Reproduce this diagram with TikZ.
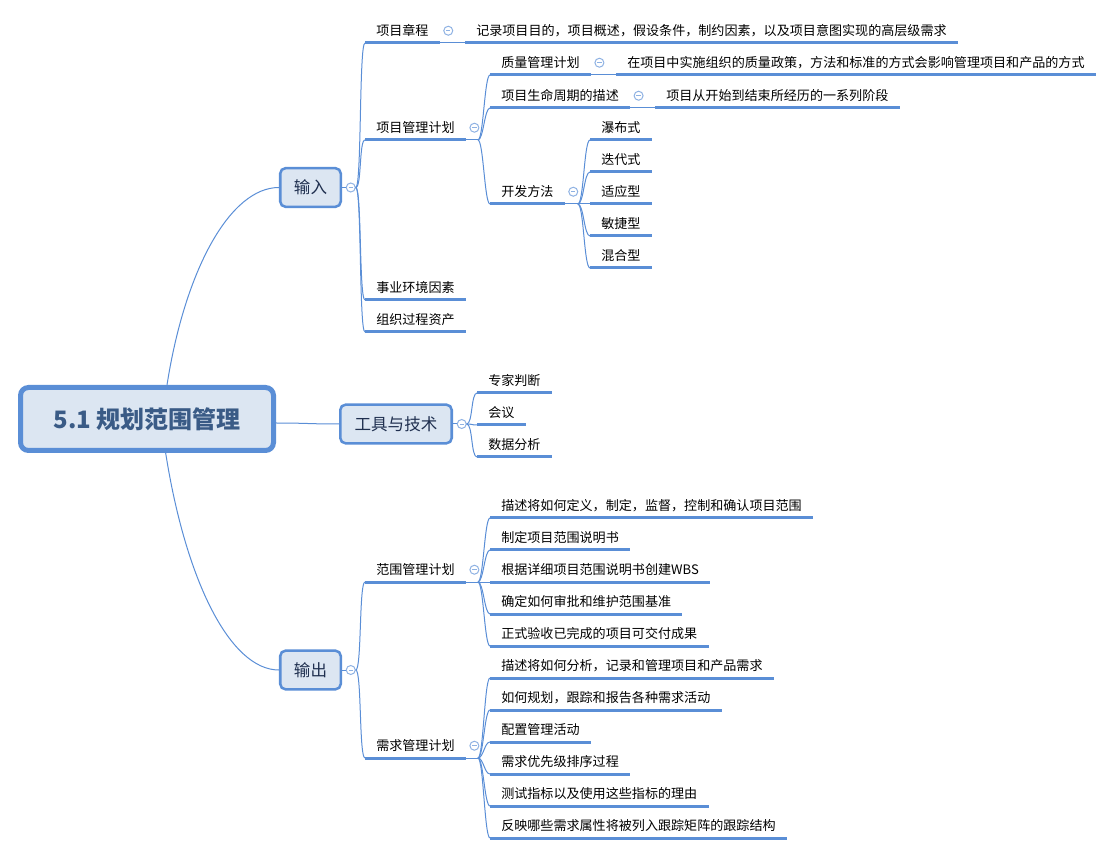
\documentclass[tikz,border=0pt]{standalone}
\usepackage{fontspec}
\setmainfont{Noto Sans CJK SC}
\usetikzlibrary{positioning}
\definecolor{mapblue}{HTML}{5A8ED6}
\definecolor{mapfill}{HTML}{DCE6F2}
\definecolor{foldblue}{HTML}{8FB2E3}
\definecolor{roottext}{HTML}{3A5B86}
\definecolor{boxtext}{HTML}{1F2F4F}
\tikzset{rootbox/.style={draw=mapblue, fill=mapfill, line width=3.75pt, rounded corners=6pt, minimum width=189.75pt, minimum height=47.25pt, font=\fontsize{18}{20}\selectfont\bfseries, text=roottext}}
\tikzset{topicbox/.style={draw=mapblue, fill=mapfill, line width=1.9pt, rounded corners=4pt, minimum height=29pt, font=\fontsize{12.4}{14}\selectfont, text=boxtext}}
\tikzset{leaf/.style={anchor=south west, inner xsep=8.25pt, inner ysep=0pt, minimum height=18pt, font=\fontsize{9.8}{12}\selectfont}}
\tikzset{uline/.style={draw=mapblue, line width=2.25pt}}
\tikzset{link/.style={draw=mapblue, line width=0.75pt}}
\tikzset{foldbtn/.style={circle, draw=foldblue, fill=white, line width=0.75pt, minimum size=6.75pt, inner sep=0pt,
  path picture={\draw[foldblue, line width=0.6pt] ([xshift=-1.6pt]path picture bounding box.center) -- ([xshift=1.6pt]path picture bounding box.center);}}}

\begin{document}
\begin{tikzpicture}[x=0.75pt,y=-0.75pt]
      \useasboundingbox (0,0) rectangle (1111,855);
      \node[rootbox] (root) at (147,419) {5.1 规划范围管理};
      \node[topicbox,minimum width=45.4pt] (input) at (310.5,187.5) {输入};
      \node[topicbox,minimum width=83.6pt] (tools) at (396,424) {工具与技术};
      \node[topicbox,minimum width=45.4pt] (output) at (310.5,670) {输出};
      \node[foldbtn,right=2.8pt of input] (inputfold) {};
      \node[foldbtn,right=2.8pt of tools] (toolsfold) {};
      \node[foldbtn,right=2.8pt of output] (outputfold) {};

      \node[leaf] (charter) at (365,43) {项目章程};
      \node[leaf] (charternote) at (465,43) {记录项目目的，项目概述，假设条件，制约因素，以及项目意图实现的高层级需求};
      \node[leaf] (pmp) at (365,140) {项目管理计划};
      \node[leaf] (quality) at (490,75) {质量管理计划};
      \node[leaf] (qualitynote) at (616,75) {在项目中实施组织的质量政策，方法和标准的方式会影响管理项目和产品的方式};
      \node[leaf] (lifecycle) at (490,108) {项目生命周期的描述};
      \node[leaf] (lifecyclenote) at (655,108) {项目从开始到结束所经历的一系列阶段};
      \node[leaf] (devmethod) at (490,204) {开发方法};
      \node[leaf] (waterfall) at (590,140) {瀑布式};
      \node[leaf] (iterative) at (590,172) {迭代式};
      \node[leaf] (adaptive) at (590,204) {适应型};
      \node[leaf] (agile) at (590,236) {敏捷型};
      \node[leaf] (hybrid) at (590,268) {混合型};
      \node[leaf] (eef) at (365,300) {事业环境因素};
      \node[leaf] (opa) at (365,332) {组织过程资产};

      \node[leaf] (expert) at (477,393) {专家判断};
      \node[leaf] (meeting) at (477,425) {会议};
      \node[leaf] (dataana) at (477,457) {数据分析};

      \node[leaf] (scope) at (365,582) {范围管理计划};
      \node[leaf] (scopea) at (490,518) {描述将如何定义，制定，监督，控制和确认项目范围};
      \node[leaf] (scopeb) at (490,550) {制定项目范围说明书};
      \node[leaf] (scopec) at (490,582) {根据详细项目范围说明书创建WBS};
      \node[leaf] (scoped) at (490,614) {确定如何审批和维护范围基准};
      \node[leaf] (scopee) at (490,646) {正式验收已完成的项目可交付成果};
      \node[leaf] (reqs) at (365,758) {需求管理计划};
      \node[leaf] (reqsa) at (490,678) {描述将如何分析，记录和管理项目和产品需求};
      \node[leaf] (reqsb) at (490,710) {如何规划，跟踪和报告各种需求活动};
      \node[leaf] (reqsc) at (490,742) {配置管理活动};
      \node[leaf] (reqsd) at (490,774) {需求优先级排序过程};
      \node[leaf] (reqse) at (490,806) {测试指标以及使用这些指标的理由};
      \node[leaf] (reqsf) at (490,838) {反映哪些需求属性将被列入跟踪矩阵的跟踪结构};

      \foreach \n in {charter,pmp,quality,lifecycle,devmethod,scope,reqs}
        \node[foldbtn,right=2.6pt of \n] (\n fold) {};

      \draw[link] ([xshift=15pt]root.north) .. controls +(18,-115) and +(-49,0) .. (input.west);
      \draw[link] ([yshift=-3pt]root.east) .. controls +(30,0) and +(-30,0) .. (tools.west);
      \draw[link] ([xshift=14pt]root.south) .. controls +(20,127) and +(-49,0) .. (output.west);
      \draw[link] (input) -- (inputfold);
      \draw[link] (tools) -- (toolsfold);
      \draw[link] (output) -- (outputfold);

      \foreach \c in {charter,pmp,eef,opa}
        \draw[link] (inputfold.east) .. controls +(6,0) and +(-6,0) .. (\c.south west);
      \foreach \c in {expert,meeting,dataana}
        \draw[link] (toolsfold.east) .. controls +(6,0) and +(-6,0) .. (\c.south west);
      \foreach \c in {scope,reqs}
        \draw[link] (outputfold.east) .. controls +(6,0) and +(-6,0) .. (\c.south west);

      \draw[link] (charter.south east) -- (charternote.south west);
      \draw[link] (quality.south east) -- (qualitynote.south west);
      \draw[link] (lifecycle.south east) -- (lifecyclenote.south west);

      \draw[link] (pmp.south east) -- ++(12,0) coordinate (pmpfork);
      \foreach \c in {quality,lifecycle,devmethod}
        \draw[link] (pmpfork) .. controls +(5.5,0) and +(-5.5,0) .. (\c.south west);
      \draw[link] (devmethod.south east) -- ++(13,0) coordinate (devfork);
      \foreach \c in {waterfall,iterative,adaptive,agile,hybrid}
        \draw[link] (devfork) .. controls +(6,0) and +(-6,0) .. (\c.south west);
      \draw[link] (scope.south east) -- ++(12,0) coordinate (scopefork);
      \foreach \c in {scopea,scopeb,scopec,scoped,scopee}
        \draw[link] (scopefork) .. controls +(5.5,0) and +(-5.5,0) .. (\c.south west);
      \draw[link] (reqs.south east) -- ++(12,0) coordinate (reqsfork);
      \foreach \c in {reqsa,reqsb,reqsc,reqsd,reqse,reqsf}
        \draw[link] (reqsfork) .. controls +(5.5,0) and +(-5.5,0) .. (\c.south west);

      \foreach \n in {charter,charternote,pmp,quality,qualitynote,lifecycle,lifecyclenote,devmethod,
                      waterfall,iterative,adaptive,agile,hybrid,eef,opa,expert,meeting,dataana,
                      scope,scopea,scopeb,scopec,scoped,scopee,reqs,reqsa,reqsb,reqsc,reqsd,reqse,reqsf}
        \draw[uline] (\n.south west) -- (\n.south east);
    \end{tikzpicture}
\end{document}
